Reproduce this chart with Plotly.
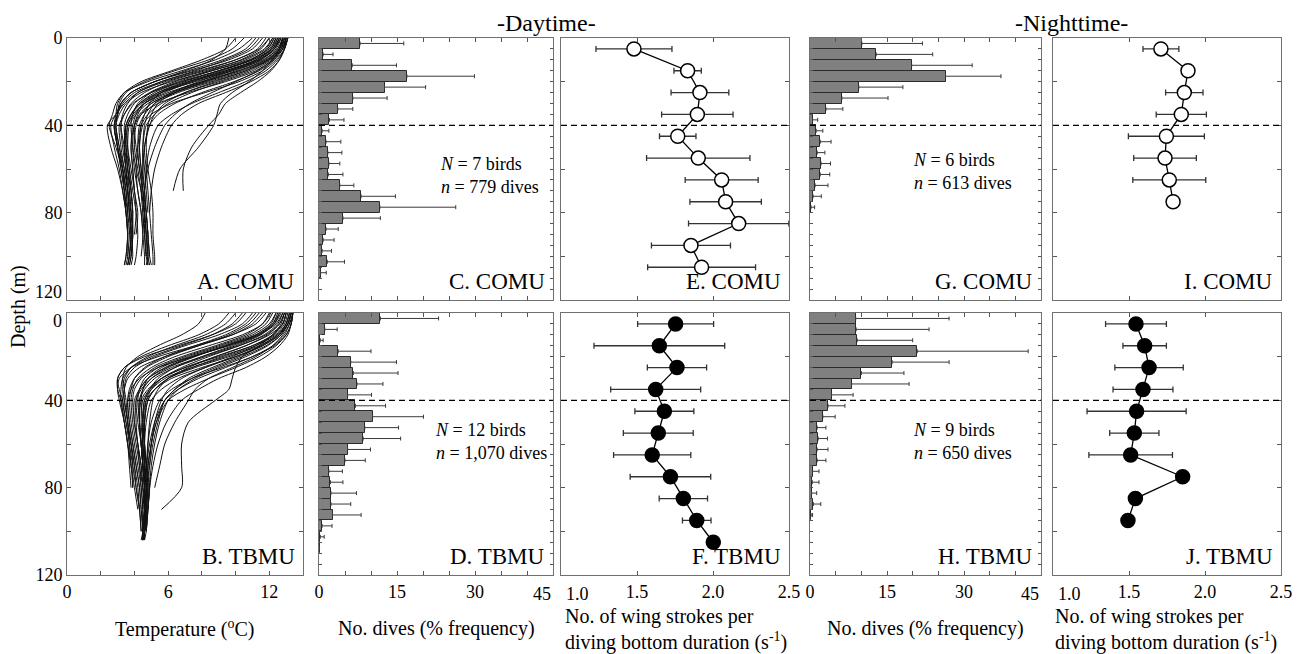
import plotly.graph_objects as go

FONT = "Liberation Serif, Times New Roman, serif"

# ---------------- data ----------------
# temperature profiles (degC) sampled at these depths (m)
DEPTH_KNOTS = [0, 5, 10, 15, 20, 25, 30, 35, 40, 50, 60, 70, 80, 90, 100, 104]

COMU_DAY_TEMP = [
    [11.0, 10.2, 8.8, 6.8, 4.8, 3.4, 2.9, 2.7, 2.5, 2.9, 3.3, 3.5, 3.6, 3.6, 3.5, 3.4],
    [12.0, 11.4, 10.0, 7.8, 5.6, 4.0, 3.3, 3.0, 2.9, 3.1, 3.4, 3.6, 3.7, 3.8, 3.7, 3.6],
    [12.6, 12.2, 11.0, 9.0, 6.8, 5.0, 3.9, 3.4, 3.2, 3.3, 3.5, 3.7, 3.8, 3.9, 3.8],
    [12.9, 12.6, 11.8, 10.2, 8.0, 6.0, 4.6, 3.9, 3.6, 3.5, 3.6, 3.8, 3.9, 3.9, 3.8, 3.7],
    [13.0, 12.8, 12.2, 11.2, 9.4, 7.2, 5.4, 4.4, 4.0, 3.8, 3.9, 4.0, 4.2, 4.1],
    [12.4, 12.0, 10.8, 8.6, 6.2, 4.4, 3.5, 3.1, 2.9, 3.0, 3.2, 3.4, 3.5],
    [12.8, 12.5, 11.6, 9.8, 7.6, 5.6, 4.4, 3.8, 3.5, 3.4, 3.5, 3.6, 3.7, 3.8, 3.9, 3.8],
    [13.1, 12.9, 12.4, 11.6, 10.2, 8.2, 6.2, 5.0, 4.5, 4.3, 4.4, 4.6, 4.7, 4.8, 4.8, 4.9],
    [12.7, 12.4, 11.4, 9.6, 7.4, 5.6, 4.6, 4.2, 4.0, 4.1, 4.3, 4.5, 4.7, 4.8, 4.9, 5.0],
    [12.2, 11.8, 10.6, 8.6, 6.6, 5.0, 4.2, 3.9, 3.8, 3.9, 4.1, 4.4, 4.6, 4.7, 4.8, 4.7],
    [13.0, 12.8, 12.3, 11.4, 9.9, 8.0, 6.4, 5.4, 4.9, 4.6, 4.7, 4.8, 4.9, 5.0, 5.1, 5.1],
    [11.6, 11.0, 9.6, 7.4, 5.2, 3.8, 3.2, 3.0, 2.8, 3.0, 3.3, 3.5],
    [12.9, 12.7, 12.2, 11.3, 10.0, 8.6, 7.3, 6.4, 5.8, 5.2, 4.8, 4.6, 4.5],
    [12.8, 12.6, 12.2, 11.6, 10.8, 9.8, 9.1, 8.9, 8.7, 7.8, 6.7, 6.3],
    [13.0, 12.9, 12.6, 12.1, 11.3, 10.3, 9.4, 9.0, 8.4, 7.4, 6.9, 6.9],
    [12.5, 12.1, 11.0, 9.0, 6.8, 5.2, 4.3, 3.8, 3.5, 3.5, 3.6, 3.8, 3.9, 3.8, 3.7, 3.6],
    [10.5, 9.8, 8.4, 6.4, 4.6, 3.5, 3.1, 3.0, 2.9, 3.1, 3.3, 3.4, 3.6, 3.7, 3.6],
    [12.9, 12.6, 11.9, 10.6, 8.6, 6.6, 5.2, 4.6, 4.3, 4.2, 4.3, 4.5, 4.6, 4.7, 4.7, 4.8],
    [13.1, 12.9, 12.5, 11.8, 10.6, 9.0, 7.4, 6.2, 5.4, 4.9, 4.7, 4.6, 4.5, 4.6],
    [12.3, 11.9, 10.9, 9.0, 7.0, 5.4, 4.5, 4.1, 3.9, 3.8, 3.9, 4.0],
    [12.6, 12.3, 11.3, 9.4, 7.2, 5.6, 4.9, 4.6, 4.4, 4.3, 4.4, 4.5, 4.6, 4.6, 4.7],
    [11.8, 11.3, 10.0, 8.0, 5.8, 4.2, 3.6, 3.3, 3.2, 3.4, 3.6, 3.7, 3.8, 3.7],
    [12.8, 12.5, 11.7, 10.2, 8.2, 6.4, 5.4, 5.0, 4.8, 4.7, 4.8, 5.0, 5.1, 5.1, 5.2, 5.2],
    [13.0, 12.8, 12.0, 10.6, 8.8, 7.0, 5.8, 5.2, 4.9, 4.6, 4.5, 4.4, 4.5, 4.6, 4.7],
    [11.2, 10.6, 9.2, 7.2, 5.2, 3.8, 3.2, 2.9, 2.6, 2.8, 3.1, 3.3, 3.5, 3.6, 3.5, 3.4],
    [12.5, 12.2, 11.2, 9.6, 7.8, 6.2, 5.2, 4.8, 4.6, 4.5, 4.6, 4.7, 4.8],
    [9.6, 9.4, 8.6, 7.0, 5.2, 3.8, 3.2, 3.0, 2.8, 3.0, 3.2, 3.4, 3.5, 3.6],
    [12.2, 11.7, 10.4, 8.2, 6.0, 4.6, 3.8, 3.4, 3.1, 3.2, 3.4, 3.6, 3.8, 3.9, 3.8, 3.7],
    [13.0, 12.7, 11.9, 10.4, 8.4, 6.4, 5.0, 4.3, 4.0, 3.9, 4.0, 4.2, 4.4, 4.5, 4.6, 4.6],
    [12.4, 12.1, 11.2, 9.4, 7.4, 5.8, 4.6, 4.0, 3.6, 3.6, 3.8, 4.0, 4.1, 4.0],
    [11.4, 10.8, 9.4, 7.6, 5.6, 4.2, 3.4, 2.9, 2.4, 2.6, 3.0, 3.3, 3.5, 3.6, 3.6, 3.5],
    [12.9, 12.7, 12.1, 11.0, 9.2, 7.4, 6.0, 5.2, 4.7, 4.5, 4.5, 4.6, 4.7, 4.8, 4.9],
    [12.7, 12.3, 11.4, 9.8, 8.0, 6.2, 4.8, 4.1, 3.7, 3.6, 3.7, 3.8, 3.9],
    [13.1, 12.9, 12.6, 12.0, 10.9, 9.4, 7.8, 6.8, 6.2, 5.6, 5.2, 5.0, 4.9],
    [12.0, 11.5, 10.3, 8.4, 6.4, 4.9, 4.0, 3.6, 3.4, 3.5, 3.7, 3.9, 4.1, 4.2, 4.1, 4.0],
    [12.6, 12.3, 11.5, 10.0, 8.2, 6.4, 5.0, 4.4, 4.1, 4.0, 4.2, 4.4, 4.6, 4.7, 4.8, 4.8],
    [10.0, 9.4, 8.0, 6.2, 4.4, 3.4, 3.0, 2.9, 2.8, 3.0, 3.3, 3.5, 3.6],
    [12.8, 12.6, 12.0, 10.8, 9.0, 7.0, 5.6, 4.8, 4.4, 4.2, 4.1, 4.2, 4.4, 4.5, 4.4],
    [12.3, 11.9, 10.9, 9.2, 7.2, 5.4, 4.3, 3.8, 3.5, 3.4, 3.5, 3.6, 3.7, 3.8, 3.7, 3.6],
]

TBMU_DAY_TEMP = [
    [13.3, 13.1, 12.6, 11.6, 10.0, 8.0, 6.2, 5.2, 4.7, 4.5, 4.5, 4.6, 4.6, 4.7, 4.6, 4.5],
    [12.8, 12.4, 11.4, 9.6, 7.4, 5.4, 4.3, 3.8, 3.6, 3.7, 3.9, 4.1, 4.3, 4.4, 4.5, 4.5],
    [13.4, 13.2, 12.9, 12.2, 11.0, 9.2, 7.4, 6.2, 5.5, 5.0, 4.8, 4.7, 4.6, 4.6, 4.5],
    [11.8, 11.2, 9.8, 7.6, 5.4, 3.8, 3.1, 3.0, 3.1, 3.4, 3.6, 3.8, 4.0, 4.2],
    [13.2, 13.0, 12.4, 11.2, 9.4, 7.4, 5.8, 5.0, 4.6, 4.5, 4.6, 4.7, 4.8, 4.7, 4.6],
    [10.6, 10.0, 8.6, 6.6, 4.6, 3.4, 3.0, 3.0, 3.2, 3.4, 3.6, 3.7, 3.8],
    [12.6, 12.2, 11.2, 9.4, 7.4, 5.8, 4.8, 4.3, 4.1, 4.2, 4.4, 4.5, 4.6, 4.6, 4.5],
    [13.4, 13.3, 13.0, 12.4, 11.4, 10.0, 8.4, 7.0, 6.0, 5.3, 5.0, 4.8, 4.7, 4.7, 4.6, 4.6],
    [9.6, 9.0, 7.8, 6.0, 4.4, 3.4, 3.0, 3.1, 3.3, 3.5, 3.8, 4.0, 4.1, 4.3, 4.4],
    [12.4, 12.0, 11.0, 9.2, 7.2, 5.6, 4.8, 4.5, 4.4, 4.5, 4.6, 4.7, 4.8, 4.8, 4.7, 4.6],
    [13.0, 12.8, 12.2, 11.4, 10.4, 10.0, 9.8, 9.6, 8.8, 7.2, 6.8, 6.8, 6.8, 5.6],
    [12.9, 12.6, 11.8, 10.2, 8.2, 6.4, 5.2, 4.6, 4.3, 4.3, 4.4, 4.5, 4.6, 4.7, 4.7],
    [8.2, 7.8, 6.8, 5.4, 4.2, 3.5, 3.3, 3.4, 3.5, 3.6, 3.8, 3.9, 3.9],
    [13.3, 13.1, 12.7, 11.9, 10.6, 9.0, 7.6, 6.6, 6.0, 5.5, 5.2, 5.0, 4.9, 4.8],
    [12.0, 11.6, 10.6, 8.8, 6.8, 5.2, 4.4, 4.0, 3.9, 4.0, 4.2, 4.4, 4.5, 4.6, 4.6],
    [13.1, 12.9, 12.3, 11.0, 9.0, 7.0, 5.6, 4.9, 4.5, 4.4, 4.5, 4.6, 4.7, 4.7, 4.6, 4.5],
    [11.2, 10.6, 9.4, 7.6, 5.8, 4.6, 4.0, 3.8, 3.7, 3.8, 4.0, 4.2, 4.4, 4.5],
    [13.4, 13.3, 13.1, 12.6, 11.8, 10.6, 9.0, 7.8, 6.8, 5.9, 5.4, 5.1, 4.9, 4.8, 4.7],
    [12.7, 12.3, 11.3, 9.5, 7.5, 5.9, 4.8, 4.3, 4.0, 4.0, 4.2, 4.3, 4.5, 4.6, 4.6, 4.5],
    [13.0, 12.8, 12.0, 10.6, 8.8, 7.2, 6.0, 5.4, 5.1, 4.9, 4.8, 4.8, 4.9, 4.8, 4.7],
    [12.2, 11.8, 10.8, 9.0, 7.0, 5.4, 4.6, 4.3, 4.2, 4.3, 4.4, 4.5, 4.6, 4.5, 4.5, 4.5],
    [13.2, 13.0, 12.6, 11.6, 10.2, 8.6, 7.2, 6.4, 5.8, 5.4, 5.1, 4.9],
    [11.6, 11.0, 9.8, 7.8, 5.8, 4.3, 3.6, 3.4, 3.3, 3.5, 3.7, 3.9, 4.1, 4.3, 4.4],
    [13.4, 13.2, 12.8, 12.2, 11.2, 9.8, 8.4, 7.6, 7.2, 6.4, 5.8, 5.5, 5.2],
    [12.5, 12.2, 11.4, 9.8, 8.0, 6.4, 5.4, 4.9, 4.6, 4.5, 4.5, 4.6, 4.7, 4.6],
    [13.3, 13.1, 12.5, 11.4, 9.6, 7.6, 6.0, 5.2, 4.8, 4.6, 4.5, 4.5, 4.6, 4.6, 4.5, 4.4],
    [10.0, 9.4, 8.2, 6.4, 4.8, 3.8, 3.4, 3.3, 3.4, 3.6, 3.7, 3.8],
    [12.9, 12.7, 12.2, 11.2, 9.8, 8.2, 6.8, 6.0, 5.6, 5.2, 5.0, 4.8, 4.7, 4.7, 4.6, 4.5],
    [12.9, 12.6, 11.9, 10.6, 8.8, 7.0, 5.6, 4.8, 4.4, 4.3, 4.4, 4.5, 4.6, 4.6, 4.6, 4.5],
    [13.2, 13.0, 12.5, 11.5, 10.0, 8.2, 6.6, 5.6, 5.0, 4.7, 4.6, 4.6, 4.7, 4.7, 4.6],
    [11.4, 10.8, 9.6, 7.8, 6.0, 4.7, 4.0, 3.7, 3.6, 3.7, 3.9, 4.1, 4.3, 4.4, 4.5, 4.5],
    [12.6, 12.3, 11.5, 10.0, 8.0, 6.2, 5.0, 4.4, 4.1, 4.1, 4.2, 4.4, 4.5, 4.6, 4.6],
    [13.4, 13.3, 13.0, 12.3, 11.0, 9.4, 7.8, 6.6, 5.8, 5.2, 4.9, 4.7, 4.6, 4.6, 4.5, 4.5],
    [10.4, 9.8, 8.6, 6.8, 5.0, 3.8, 3.3, 3.2, 3.2, 3.4, 3.6, 3.8, 3.9],
    [12.8, 12.5, 11.7, 10.2, 8.4, 6.8, 5.6, 5.0, 4.7, 4.6, 4.6, 4.6, 4.7, 4.7, 4.6, 4.5],
    [13.0, 12.8, 12.2, 11.0, 9.2, 7.4, 6.0, 5.2, 4.8, 4.6, 4.6, 4.7, 4.8, 4.8],
    [12.1, 11.6, 10.4, 8.4, 6.4, 5.0, 4.2, 3.9, 3.8, 3.9, 4.1, 4.3, 4.4, 4.5, 4.5],
    [13.3, 13.1, 12.7, 11.8, 10.4, 8.8, 7.4, 6.4, 5.8, 5.3, 5.0, 4.9, 4.8, 4.7, 4.6],
    [11.0, 10.4, 9.0, 7.0, 5.2, 4.0, 3.5, 3.4, 3.4, 3.6, 3.8, 4.0, 4.2, 4.3],
    [12.4, 12.1, 11.2, 9.4, 7.6, 6.0, 5.0, 4.5, 4.3, 4.3, 4.4, 4.5, 4.6, 4.6, 4.5, 4.5],
]

# dive depth distribution, 5-m bins (mid depth, m)
BIN_MID = [2.5, 7.5, 12.5, 17.5, 22.5, 27.5, 32.5, 37.5, 42.5, 47.5, 52.5, 57.5,
           62.5, 67.5, 72.5, 77.5, 82.5, 87.5, 92.5, 97.5, 102.5, 107.5]
COMU_DAY_PCT = [7.9, 0.8, 6.4, 16.9, 12.6, 6.5, 3.6, 2.0, 0.6, 1.35, 1.7, 1.9,
                1.8, 4.0, 8.1, 11.7, 4.6, 1.35, 0.8, 0.6, 1.6, 0.3]
COMU_DAY_SD = [8.4, 1.9, 8.5, 13.0, 7.9, 6.6, 2.9, 2.8, 1.3, 2.85, 2.7, 2.1,
               2.8, 2.7, 6.6, 14.6, 7.2, 2.35, 2.1, 1.8, 3.3, 1.1]
TBMU_DAY_PCT = [11.8, 1.1, 0.25, 3.7, 6.1, 6.6, 7.3, 5.5, 7.0, 10.3, 8.8, 8.5,
                5.5, 5.0, 1.9, 2.2, 2.3, 2.3, 2.6, 0.6, 0.25, 0.1]
TBMU_DAY_SD = [11.2, 2.4, 0.55, 6.3, 8.8, 8.6, 5.0, 4.6, 5.8, 9.8, 6.5, 7.2,
               4.4, 3.9, 2.6, 2.4, 4.9, 3.8, 5.5, 1.9, 0.75, 0.0]
COMU_NIGHT_PCT = [10.1, 12.9, 19.8, 26.4, 9.5, 6.2, 3.1, 0.5, 1.2, 2.0, 1.4, 2.15,
                  2.0, 1.0, 0.6, 0.2]
COMU_NIGHT_SD = [11.8, 11.0, 11.8, 10.8, 8.6, 9.0, 3.3, 1.0, 1.3, 2.1, 1.5, 1.85,
                 1.85, 2.5, 1.6, 0.7]
TBMU_NIGHT_PCT = [8.9, 9.0, 9.2, 20.9, 16.0, 10.0, 8.1, 4.2, 3.5, 2.5, 1.4, 1.6,
                  1.4, 1.4, 0.5, 0.45, 0.3, 0.65, 0.2]
TBMU_NIGHT_SD = [18.2, 14.2, 10.8, 21.6, 11.1, 8.3, 11.2, 4.2, 3.3, 2.4, 1.7, 1.8,
                 2.1, 1.7, 1.25, 1.3, 1.0, 1.45, 0.3]

# wing-stroke frequency (s^-1) per 10-m depth bin (mid depth, m)
RATE_DEPTH = [5, 15, 25, 35, 45, 55, 65, 75, 85, 95, 105]
COMU_DAY_RATE = [1.48, 1.833, 1.914, 1.897, 1.768, 1.903, 2.057, 2.083, 2.169, 1.855, 1.925]
COMU_DAY_RATE_SD = [0.25, 0.09, 0.19, 0.235, 0.12, 0.34, 0.24, 0.235, 0.33, 0.26, 0.355]
TBMU_DAY_RATE = [1.754, 1.647, 1.763, 1.623, 1.68, 1.64, 1.60, 1.72, 1.805, 1.893, 2.002]
TBMU_DAY_RATE_SD = [0.25, 0.43, 0.195, 0.296, 0.194, 0.23, 0.254, 0.265, 0.159, 0.094, 0.0]
COMU_NIGHT_RATE = [1.71, 1.888, 1.864, 1.844, 1.746, 1.737, 1.765, 1.79]
COMU_NIGHT_RATE_SD = [0.118, 0.03, 0.123, 0.165, 0.25, 0.206, 0.24, 0.0]
TBMU_NIGHT_RATE = [1.546, 1.603, 1.632, 1.592, 1.55, 1.535, 1.511, 1.853, 1.542, 1.493]
TBMU_NIGHT_RATE_SD = [0.2, 0.143, 0.225, 0.197, 0.326, 0.162, 0.275, 0.0, 0.0, 0.0]

# tick labels
TEMP_TICKS = [0, 6, 12]
TEMP_MINOR = [2, 4, 8, 10, 14]
PCT_TICKS = [0, 15, 30]
PCT_MINOR = [5, 10, 20, 25, 35, 40, 45]
RATE_TICKS = [1.5, 2.0, 2.5]
RATE_TICKTEXT = ["1.5", "2.0", "2.5"]

PANEL_LABELS = ["A. COMU", "C. COMU", "E. COMU", "G. COMU", "I. COMU",
                "B. TBMU", "D. TBMU", "F. TBMU", "H. TBMU", "J. TBMU"]
SAMPLE_TEXT = {
    2: "<i>N</i> = 7 birds<br><i>n</i> = 779 dives",
    7: "<i>N</i> = 12 birds<br><i>n</i> = 1,070 dives",
    4: "<i>N</i> = 6 birds<br><i>n</i> = 613 dives",
    9: "<i>N</i> = 9 birds<br><i>n</i> = 650 dives",
}

# ---------------- layout geometry ----------------
OFF = 8                      # page body margin
W, H = 1303 - OFF, 654 - OFF
COLS = [(67, 303), (319, 553), (561, 789), (810, 1041), (1053, 1281)]
ROWS = [(38, 300), (313, 575)]


def px(x):
    return (x - OFF) / W


def py(y):
    return 1 - (y - OFF) / H


def xdom(c):
    return [px(COLS[c][0]), px(COLS[c][1])]


def ydom(r):
    return [py(ROWS[r][1]), py(ROWS[r][0])]


def ax(i):
    return ("x" if i == 1 else f"x{i}"), ("y" if i == 1 else f"y{i}")


fig = go.Figure()

# temperature profiles
for idx, profiles in ((1, COMU_DAY_TEMP), (6, TBMU_DAY_TEMP)):
    xa, ya = ax(idx)
    for p in profiles:
        fig.add_trace(go.Scatter(
            x=p, y=DEPTH_KNOTS[:len(p)], mode="lines",
            line=dict(color="#111111", width=1, shape="spline", smoothing=0.8),
            xaxis=xa, yaxis=ya, hoverinfo="skip", showlegend=False))

# dive distributions
for idx, vals, sd in ((2, COMU_DAY_PCT, COMU_DAY_SD), (7, TBMU_DAY_PCT, TBMU_DAY_SD),
                      (4, COMU_NIGHT_PCT, COMU_NIGHT_SD), (9, TBMU_NIGHT_PCT, TBMU_NIGHT_SD)):
    xa, ya = ax(idx)
    n = len(vals)
    fig.add_trace(go.Bar(
        x=vals, y=BIN_MID[:n], orientation="h", width=5,
        marker=dict(color="#808080", line=dict(color="#2a2a2a", width=1)),
        error_x=dict(type="data", symmetric=False, array=sd, arrayminus=[0] * n,
                     color="#3a3a3a", thickness=1, width=2),
        xaxis=xa, yaxis=ya, showlegend=False))

# wing stroke rates
for idx, vals, sd, fill in ((3, COMU_DAY_RATE, COMU_DAY_RATE_SD, "white"),
                            (8, TBMU_DAY_RATE, TBMU_DAY_RATE_SD, "black"),
                            (5, COMU_NIGHT_RATE, COMU_NIGHT_RATE_SD, "white"),
                            (10, TBMU_NIGHT_RATE, TBMU_NIGHT_RATE_SD, "black")):
    xa, ya = ax(idx)
    n = len(vals)
    fig.add_trace(go.Scatter(
        x=vals, y=RATE_DEPTH[:n], mode="lines+markers",
        line=dict(color="black", width=1.3),
        marker=dict(size=14, color=fill, line=dict(color="black", width=1.5)),
        error_x=dict(type="data", array=sd, color="#333333", thickness=1.3, width=3),
        xaxis=xa, yaxis=ya, showlegend=False))

TICKFONT = dict(family=FONT, size=18, color="black")
common = dict(showline=True, linecolor="#707070", linewidth=1, mirror="ticks",
              ticks="inside", ticklen=4, tickcolor="#555555", tickwidth=1,
              showgrid=False, zeroline=False, automargin=False, tickfont=TICKFONT)
minor_common = dict(ticks="inside", ticklen=4, tickcolor="#555555", tickwidth=1, showgrid=False)

layout = dict(width=W, height=H, margin=dict(l=0, r=0, t=0, b=0, pad=0, autoexpand=False),
              paper_bgcolor="white", plot_bgcolor="white", showlegend=False,
              bargap=0)

for i in range(1, 11):
    r = 0 if i <= 5 else 1
    c = (i - 1) % 5
    xa, ya = ax(i)
    xkey = "xaxis" if i == 1 else f"xaxis{i}"
    ykey = "yaxis" if i == 1 else f"yaxis{i}"
    xd = dict(common, domain=xdom(c), anchor=ya)
    yd = dict(common, domain=ydom(r), anchor=xa, range=[120, 0], autorange=False)
    if c == 0:
        xd.update(range=[0, 14], tickvals=TEMP_TICKS, ticktext=[str(v) for v in TEMP_TICKS],
                  minor=dict(minor_common, tickvals=TEMP_MINOR))
        if r == 0:
            yd.update(tickvals=[0, 40, 80], ticktext=["0", "40", "80"],
                      minor=dict(minor_common, tickvals=[20, 60, 100, 120]))
        else:
            yd.update(tickvals=[40, 80, 120], ticktext=["40", "80", "120"],
                      minor=dict(minor_common, tickvals=[0, 20, 60, 100]))
    elif c in (1, 3):
        xd.update(range=[0, 45], tickvals=PCT_TICKS, ticktext=[str(v) for v in PCT_TICKS],
                  minor=dict(minor_common, tickvals=PCT_MINOR))
        yd.update(tickvals=list(range(0, 121, 5)), showticklabels=False, ticklen=3)
    else:
        xd.update(range=[1.0, 2.5], tickvals=RATE_TICKS, ticktext=RATE_TICKTEXT,
                  minor=dict(minor_common, tickvals=[1.0]))
        yd.update(tickvals=[0, 20, 40, 60, 80, 100, 120], showticklabels=False)
    if r == 0:
        xd.update(showticklabels=False)
    layout[xkey] = xd
    layout[ykey] = yd

shapes = []
annotations = []
for i in range(1, 11):
    xa, ya = ax(i)
    shapes.append(dict(type="line", xref=f"{xa} domain", yref=ya, x0=0, x1=1,
                       y0=40, y1=40, line=dict(color="black", width=1.2, dash="6px,4px"),
                       layer="above"))
    annotations.append(dict(text=PANEL_LABELS[i - 1], xref=f"{xa} domain",
                            yref=f"{ya} domain", x=0.975, y=0.015,
                            xanchor="right", yanchor="bottom", showarrow=False,
                            font=dict(family=FONT, size=23, color="black")))

# end-of-axis tick labels that sit off-centre in the original
annotations.append(dict(text="120", xref="paper", yref="y", x=px(64), y=120,
                        xanchor="right", yanchor="bottom", yshift=-4, showarrow=False,
                        font=TICKFONT))
annotations.append(dict(text="0", xref="paper", yref="y6", x=px(64), y=0,
                        xanchor="right", yanchor="top", yshift=4, showarrow=False,
                        font=TICKFONT))
for i in (7, 9):
    xa, _ = ax(i)
    annotations.append(dict(text="45", xref=xa, yref="paper", x=45, y=py(594),
                            xanchor="right", yanchor="middle", showarrow=False,
                            font=TICKFONT))
for i in (8, 10):
    xa, _ = ax(i)
    annotations.append(dict(text="1.0", xref=xa, yref="paper", x=1.0, y=py(594),
                            xanchor="left", yanchor="middle", xshift=3, showarrow=False,
                            font=TICKFONT))

# sample size text
for i, (xv, yv) in {2: (22.9, 63.0), 7: (21.9, 59.0), 4: (19.7, 61.0), 9: (19.7, 59.0)}.items():
    xa, ya = ax(i)
    annotations.append(dict(text=SAMPLE_TEXT[i], xref=xa, yref=ya, x=xv, y=yv,
                            xanchor="left", yanchor="middle", align="left",
                            showarrow=False,
                            font=dict(family=FONT, size=18, color="black")))

# titles
annotations.append(dict(text="-Daytime-", xref="paper", yref="paper",
                        x=px(546), y=1, xanchor="center", yanchor="top",
                        showarrow=False, font=dict(family=FONT, size=24, color="black")))
annotations.append(dict(text="-Nighttime-", xref="paper", yref="paper",
                        x=px(1071), y=1, xanchor="center", yanchor="top",
                        showarrow=False, font=dict(family=FONT, size=24, color="black")))
annotations.append(dict(text="Depth (m)", xref="paper", yref="paper",
                        x=px(18), y=py(307), xanchor="center", yanchor="middle",
                        textangle=-90, showarrow=False,
                        font=dict(family=FONT, size=20, color="black")))

# axis titles
for cx, txt in ((185, "Temperature (<sup>o</sup>C)"), (436, "No. dives (% frequency)"),
                (925, "No. dives (% frequency)")):
    annotations.append(dict(text=txt, xref="paper", yref="paper", x=px(cx),
                            y=py(628), xanchor="center", yanchor="middle",
                            showarrow=False, font=dict(family=FONT, size=20, color="black")))
for lx in (563, 1053):
    annotations.append(dict(text="No. of wing strokes per<br>diving bottom duration (s<sup>-1</sup>)",
                            xref="paper", yref="paper", x=px(lx), y=py(629),
                            xanchor="left", yanchor="middle", align="left",
                            showarrow=False, font=dict(family=FONT, size=20, color="black")))

layout["shapes"] = shapes
layout["annotations"] = annotations
fig.update_layout(**layout)

fig.write_html("out.html")
